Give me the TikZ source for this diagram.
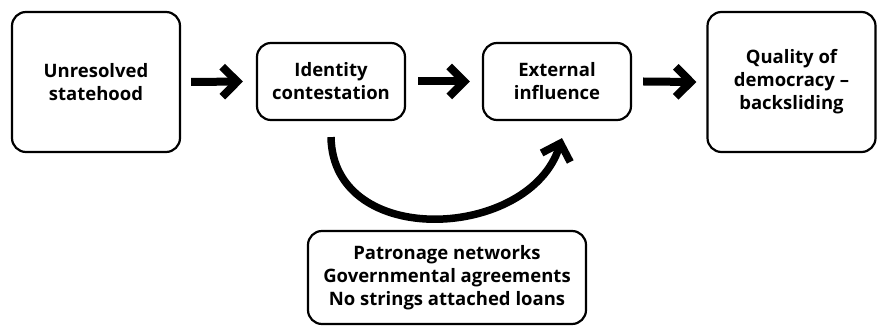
\documentclass[tikz,border=0pt]{standalone}
\usepackage{fontspec}
\setmainfont{Open Sans}
\usetikzlibrary{arrows.meta}
\begin{document}
\begin{tikzpicture}[x=1pt,y=-1pt,
  box/.style={draw, line width=2.2pt, rounded corners=14pt, align=center,
    font=\fontsize{18.5}{23}\selectfont\bfseries, inner sep=0pt},
  bigbox/.style={box, minimum width=168pt, minimum height=140pt},
  smallbox/.style={box, minimum width=148pt, minimum height=77pt},
  tipshape/.style={-{Straight Barb[length=15pt, width=30pt]}},
  bigarrow/.style={line width=8pt, tipshape}]
\useasboundingbox (0,0) rectangle (878,328);
\node[bigbox] (u) at (96,82) {Unresolved\\statehood};
\node[smallbox] (id) at (331,81.5) {Identity\\contestation};
\node[smallbox] (ext) at (557,81.5) {External\\influence};
\node[bigbox] (q) at (791.5,82) {Quality of\\democracy --\\backsliding};
\node[box, minimum width=278pt, minimum height=93pt] (pat) at (447,277.5)
  {Patronage networks\\Governmental agreements\\No strings attached loans};
\draw[bigarrow] ([xshift=10pt]u.east) -- ([xshift=-13pt]id.west);
\draw[bigarrow] ([xshift=12pt]id.east) -- ([xshift=-12pt]ext.west);
\draw[bigarrow] ([xshift=11pt]ext.east) -- ([xshift=-10pt]q.west);
\draw[line width=7.5pt, tipshape]
  ([yshift=-16pt]id.south) .. controls (333,250) and (530,240) .. ([xshift=5pt,yshift=-17pt]ext.south);
\end{tikzpicture}
\end{document}
